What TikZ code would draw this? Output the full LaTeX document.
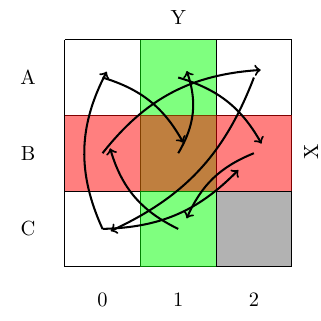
\documentclass[tikz,border=0pt]{standalone}
\begin{document}
\begin{tikzpicture}[scale=1.3, >=to,
        freccia/.style={->, line width=1pt}]
        \useasboundingbox (-0.855,-0.704) rectangle (3.387,3.525);

        % Cella grigia in basso a destra
        \fill[black!30] (2,0) rectangle (3,1);

        % Griglia 3x3
        \draw[line width=0.5pt] (0,0) grid (3,3);

        % Colonna verde e riga rossa (semitrasparenti)
        \fill[green, opacity=0.5] (1,0) rectangle (2,3);
        \fill[red, opacity=0.5] (0,1) rectangle (3,2);

        % Centri delle celle
        \foreach \riga/\y in {A/2.5, B/1.5, C/0.5}
            \foreach \col in {0,1,2}
                \coordinate (\riga\col) at (\col+0.5,\y);

        % Etichette degli assi
        \node (assey) at (1.5,3.287) {Y};
        \node[rotate=90] (assex) at (3.255,1.515) {X};
        \foreach \riga/\y in {A/2.5, B/1.5, C/0.5}
            \node (lab\riga) at (-0.485,\y) {\riga};
        \foreach \col in {0,1,2}
            \node (lab\col) at (\col+0.5,-0.44) {\col};

        % Frecce tra le celle
        \draw[freccia] (A0) to[bend left=22] ([shift={(0.067,0.139)}]B1);
        \draw[freccia] (B1) to[bend right=25] ([shift={(0.112,0.086)}]A1);
        \draw[freccia] (A1) to[bend left=22] ([shift={(0.1,0.128)}]B2);
        \draw[freccia] (B0) to[bend left=24] ([shift={(0.09,0.1)}]A2);
        \draw[freccia] (A2) to[bend left=22] ([shift={(0.108,-0.028)}]C0);
        \draw[freccia] (C0) to[bend left=26] ([shift={(0.055,0.077)}]A0);
        \draw[freccia] (C0) to[bend right=22] ([shift={(-0.206,-0.222)}]B2);
        \draw[freccia] (B2) to[bend right=22] ([shift={(0.112,0.14)}]C1);
        \draw[freccia] (C1) to[bend left=24] ([shift={(0.1,0.065)}]B0);
    \end{tikzpicture}
\end{document}
